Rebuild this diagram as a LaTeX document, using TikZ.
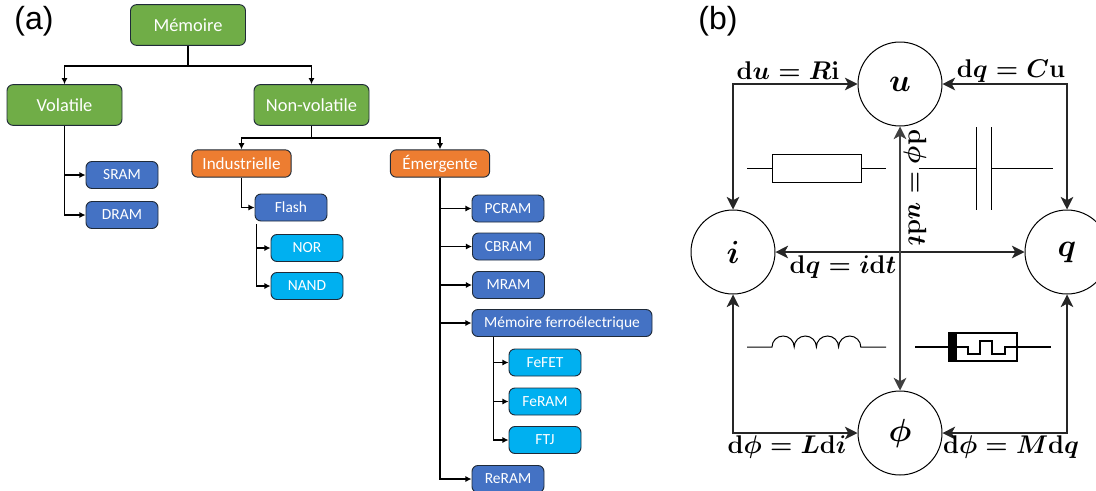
\documentclass[tikz,border=0pt]{standalone}
\usepackage{fontspec}
\usepackage{fix-cm}
\setmainfont{Carlito}
\newfontfamily\labelfont{Liberation Sans}
\usetikzlibrary{arrows.meta,calc}
\definecolor{cgreen}{HTML}{70AD47}
\definecolor{corange}{HTML}{ED7D31}
\definecolor{cblue}{HTML}{4472C4}
\definecolor{ccyan}{HTML}{00B0F0}
\definecolor{edgeD}{HTML}{1F2A38}
\newcommand\bmath[1]{{\boldmath$#1$}}
\tikzset{
  boxbase/.style={draw=edgeD,line width=0.7pt,rounded corners=4.5pt,inner sep=0pt,text=white,align=center},
  bigbox/.style={boxbase,fill=cgreen,minimum width=86.25pt,minimum height=30.5pt,font=\fontsize{13.8}{16}\selectfont},
  midbox/.style={boxbase,fill=corange,minimum width=74.5pt,minimum height=20.5pt,font=\fontsize{12.8}{14}\selectfont},
  bluebox/.style={boxbase,fill=cblue,minimum width=54pt,minimum height=20.25pt,font=\fontsize{11.6}{13}\selectfont},
  cyanbox/.style={boxbase,fill=ccyan,minimum width=54pt,minimum height=20.25pt,font=\fontsize{11.6}{13}\selectfont},
  tree/.style={line width=1.35pt,black,-{Latex[length=4.6pt,width=4.6pt]}},
  treeplain/.style={line width=1.35pt,black},
  panel/.style={font=\labelfont\fontsize{24}{28}\selectfont,inner sep=0pt},
  vertex/.style={circle,draw=black,line width=0.75pt,minimum size=63pt,inner sep=0pt,font=\fontsize{24}{28}\selectfont,fill=white},
  link/.style={line width=0.8pt,black!85,{Stealth[length=9.5pt,width=9.5pt,inset=2.6pt]}-{Stealth[length=9.5pt,width=9.5pt,inset=2.6pt]}},
  formula/.style={font=\fontsize{19.2}{22}\selectfont,inner sep=0pt},
  element/.style={line width=0.75pt,black},
}
\begin{document}
\begin{tikzpicture}[x=0.75pt,y=-0.75pt]
\useasboundingbox (0,0) rectangle (1096,490);
\node[panel] (pa) at (34,21) {(a)};
\node[panel] (pb) at (718,21) {(b)};
% panel (a) nodes
\node[bigbox] (mem) at (188,25) {Mémoire};
\node[bigbox] (vol) at (64.5,105) {Volatile};
\node[bigbox] (nvol) at (311.5,105) {Non-volatile};
\node[midbox] (ind) at (241.5,163.5) {Industrielle};
\node[midbox] (eme) at (440,163.5) {Émergente};
\node[bluebox] (sram) at (122,175) {SRAM};
\node[bluebox] (dram) at (122,215) {DRAM};
\node[bluebox] (flash) at (291,207.5) {Flash};
\node[cyanbox] (nor) at (307,248) {NOR};
\node[cyanbox] (nand) at (307,286) {NAND};
\node[bluebox] (pcram) at (508,208.5) {PCRAM};
\node[bluebox] (cbram) at (508.5,246.5) {CBRAM};
\node[bluebox] (mram) at (508.5,285) {MRAM};
\node[bluebox,minimum width=135pt] (ferro) at (562,323) {Mémoire ferroélectrique};
\node[cyanbox] (fefet) at (545,362.5) {FeFET};
\node[cyanbox] (feram) at (545,401.5) {FeRAM};
\node[cyanbox] (ftj) at (545,440) {FTJ};
\node[bluebox] (reram) at (508,479) {ReRAM};
% panel (a) connectors
\coordinate (memj) at ($(mem.south)+(0,20)$);
\draw[treeplain] (mem.south) -- (memj);
\draw[tree] (memj) -| (vol.north);
\draw[tree] (memj) -| (nvol.north);
\draw[tree] (vol.south) |- (sram.west);
\draw[tree] (vol.south) |- (dram.west);
\coordinate (nvj) at ($(nvol.south)+(0,12)$);
\draw[treeplain] (nvol.south) -- (nvj);
\draw[tree] (nvj) -| (ind.north);
\draw[tree] (nvj) -| (eme.north);
\draw[tree] (ind.south) |- (flash.west);
\coordinate (flj) at ($(flash.south west)+(2,3)$);
\draw[tree] (flj) |- (nor.west);
\draw[tree] (flj) |- (nand.west);
\draw[tree] (eme.south) |- (pcram.west);
\draw[tree] (eme.south) |- (cbram.west);
\draw[tree] (eme.south) |- (mram.west);
\draw[tree] (eme.south) |- (ferro.west);
\draw[tree] (eme.south) |- (reram.west);
\coordinate (fej) at ($(ferro.south west)+(22,0)$);
\draw[tree] (fej) |- (fefet.west);
\draw[tree] (fej) |- (feram.west);
\draw[tree] (fej) |- (ftj.west);
% panel (b) nodes
\node[vertex] (u) at (900,84) {\bmath{u}};
\node[vertex] (i) at (733,252) {\bmath{i}};
\node[vertex] (q) at (1067,252) {\bmath{q}};
\node[vertex] (phi) at (900,433) {\bmath{\phi}};
% panel (b) connectors
\coordinate (cul) at (i.north |- u.west);
\coordinate (cur) at (q.north |- u.east);
\coordinate (cdl) at (i.south |- phi.west);
\coordinate (cdr) at (q.south |- phi.east);
\draw[link] (u.west) -- (cul) -- (i.north);
\draw[link] (u.east) -- (cur) -- (q.north);
\draw[link] (phi.west) -- (cdl) -- (i.south);
\draw[link] (phi.east) -- (cdr) -- (q.south);
\draw[link] (i.east) -- (q.west);
\draw[link,line width=1.1pt,black!75] (u.south) -- (phi.north);
% labels
\node[formula] (l1) at (788,71) {\bmath{\mathbf{d}u=R\mathbf{i}}};
\node[formula] (l2) at (1011,71) {\bmath{\mathbf{d}q=C\mathbf{u}}};
\node[formula] (l3) at (843,267) {\bmath{\mathbf{d}q=i\mathbf{d}t}};
\node[formula] (l4) at (787,447) {\bmath{\mathbf{d}\phi=L\mathbf{d}i}};
\node[formula] (l5) at (1011,447) {\bmath{\mathbf{d}\phi=M\mathbf{d}q}};
\node[formula,rotate=-90] (l6) at (915,188) {\bmath{\mathbf{d}\phi=u\mathbf{d}t}};
% resistor
\draw[element] (747,168) -- (772,168) (861,168) -- (886,168);
\draw[element] (772,154) rectangle (861,182);
% capacitor
\draw[element] (919,168) -- (976,168) (991,168) -- (1053,168);
\draw[element] (976,127) -- (976,210) (991,127) -- (991,210);
% inductor
\draw[element] (747,347) -- (772,347)
  arc[start angle=180,end angle=360,x radius=11.1,y radius=11]
  arc[start angle=180,end angle=360,x radius=11.1,y radius=11]
  arc[start angle=180,end angle=360,x radius=11.1,y radius=11]
  arc[start angle=180,end angle=360,x radius=11.1,y radius=11]
  -- (886,347);
% memristor
\draw[element,line width=1pt] (915,347) -- (949,347) (1017,347) -- (1051,347);
\draw[element,line width=1pt] (949,333) rectangle (1017,361);
\fill[black] (949,333) rectangle (957,361);
\draw[element,line width=1pt] (957,347) -- (968,347) -- (968,354) -- (980,354) -- (980,341) -- (992,341) -- (992,354) -- (1005,354) -- (1005,347) -- (1017,347);
\end{tikzpicture}
\end{document}
